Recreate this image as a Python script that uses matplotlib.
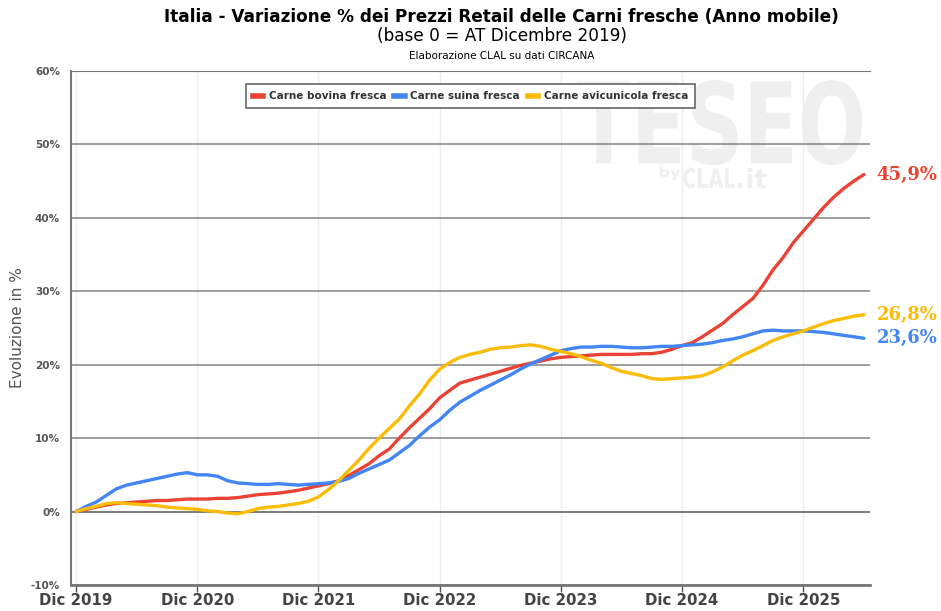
import matplotlib
matplotlib.use('Agg')
import matplotlib.pyplot as plt
from matplotlib.lines import Line2D
from matplotlib.textpath import TextPath
from matplotlib.patches import PathPatch
from matplotlib.font_manager import FontProperties
from matplotlib.transforms import Affine2D

# valori mensili da Dic 2019 (base 0)
bovina = [0.0, 0.3, 0.6, 0.9, 1.1, 1.2, 1.3, 1.4, 1.5, 1.5, 1.6, 1.7,
          1.7, 1.7, 1.8, 1.8, 1.9, 2.1, 2.3, 2.4, 2.5, 2.7, 2.9, 3.2,
          3.5, 3.8, 4.2, 4.9, 5.7, 6.5, 7.6, 8.5, 10.0, 11.4, 12.7, 14.0,
          15.5, 16.5, 17.5, 17.9, 18.3, 18.7, 19.1, 19.5, 19.9, 20.2, 20.5, 20.8,
          21.0, 21.1, 21.2, 21.3, 21.4, 21.4, 21.4, 21.4, 21.5, 21.5, 21.7, 22.1,
          22.6, 23.0, 23.8, 24.7, 25.6, 26.8, 27.9, 29.0, 30.8, 32.9, 34.6, 36.6,
          38.2, 39.8, 41.4, 42.8, 44.0, 45.0, 45.9]
suina = [0.0, 0.7, 1.3, 2.2, 3.1, 3.6, 3.9, 4.2, 4.5, 4.8, 5.1, 5.3,
         5.0, 5.0, 4.8, 4.2, 3.9, 3.8, 3.7, 3.7, 3.8, 3.7, 3.6, 3.7,
         3.8, 3.9, 4.1, 4.5, 5.2, 5.8, 6.4, 7.0, 8.0, 9.0, 10.3, 11.5,
         12.5, 13.8, 14.9, 15.7, 16.5, 17.2, 17.9, 18.6, 19.4, 20.1, 20.7, 21.3,
         21.9, 22.2, 22.4, 22.4, 22.5, 22.5, 22.4, 22.3, 22.3, 22.4, 22.5, 22.5,
         22.6, 22.7, 22.8, 23.0, 23.3, 23.5, 23.8, 24.2, 24.6, 24.7, 24.6, 24.6,
         24.6, 24.5, 24.4, 24.2, 24.0, 23.8, 23.6]
avicunicola = [0.0, 0.4, 0.7, 1.1, 1.2, 1.1, 1.0, 0.9, 0.8, 0.6, 0.5, 0.4,
               0.3, 0.1, 0.0, -0.2, -0.3, 0.0, 0.4, 0.6, 0.7, 0.9, 1.1, 1.4,
               2.0, 3.0, 4.2, 5.6, 7.0, 8.6, 10.0, 11.3, 12.6, 14.4, 16.0, 17.9,
               19.4, 20.3, 21.0, 21.4, 21.7, 22.1, 22.3, 22.4, 22.6, 22.7, 22.5, 22.1,
               21.8, 21.5, 21.1, 20.6, 20.2, 19.6, 19.1, 18.8, 18.5, 18.1, 18.0, 18.1,
               18.2, 18.3, 18.5, 19.0, 19.7, 20.5, 21.3, 21.9, 22.6, 23.3, 23.8, 24.2,
               24.6, 25.1, 25.6, 26.0, 26.3, 26.6, 26.8]

nomi = ['Carne bovina fresca', 'Carne suina fresca', 'Carne avicunicola fresca']
colori = ['#EA4335', '#4285F4', '#FBBC05']
tick_mesi = [0, 12, 24, 36, 48, 60, 72]
tick_label = ['Dic 2019', 'Dic 2020', 'Dic 2021', 'Dic 2022', 'Dic 2023', 'Dic 2024', 'Dic 2025']
y_ticks = [-10, 0, 10, 20, 30, 40, 50, 60]

fig = plt.figure(figsize=(9.41, 6.11), dpi=100)
ax = fig.add_axes([0.0755, 0.0426, 0.849, 0.8412])
ax.patch.set_alpha(0)


def filigrana(testo, box):
    # scritta grigia chiara stirata dentro box (frazioni di figura)
    p = TextPath((0, 0), testo, size=10, prop=FontProperties(family='DejaVu Sans', weight='bold'))
    e = p.get_extents()
    x0, y0, x1, y1 = box
    t = (Affine2D().translate(-e.x0, -e.y0)
         .scale((x1 - x0) / e.width, (y1 - y0) / e.height)
         .translate(x0, y0) + fig.transFigure)
    fig.patches.append(PathPatch(p, transform=t, facecolor='#efefef', edgecolor='none', zorder=-1))


filigrana('TESEO', (0.613, 0.730, 0.916, 0.869))
filigrana('by', (0.701, 0.706, 0.723, 0.727))
filigrana('CLAL', (0.726, 0.692, 0.781, 0.725))
filigrana('.it', (0.784, 0.692, 0.815, 0.725))

serie = [bovina, suina, avicunicola]
mesi = list(range(len(bovina)))
for i in [0, 1, 2]:
    ax.plot(mesi, serie[i], color=colori[i], lw=2.4, solid_capstyle='round', zorder=3)

ax.set_xlim(-0.5, 78.6)
ax.set_ylim(-10, 60)
ax.set_yticks(y_ticks)
ax.set_yticklabels([f'{v}%' for v in y_ticks], fontsize=7.5, fontweight='bold', color='#555555')
ax.set_xticks(tick_mesi)
ax.set_xticklabels(tick_label, fontsize=10.8, fontweight='bold', color='#444444')
ax.tick_params(axis='y', length=0, pad=8)
ax.tick_params(axis='x', length=5, width=1, color='#555555', direction='out', pad=1)

for v in y_ticks:
    ax.axhline(v, color='#8c8c8c' if v != 0 else '#666666', lw=1.2, zorder=1)
for m in tick_mesi:
    ax.axvline(m, color='#eeeeee', lw=1, zorder=0)

ax.spines['right'].set_visible(False)
ax.spines['left'].set_color('#777777')
ax.spines['left'].set_linewidth(1.5)
ax.spines['top'].set_color('#777777')
ax.spines['bottom'].set_color('#777777')
ax.spines['bottom'].set_linewidth(2)

ax.set_ylabel('Evoluzione in %', fontsize=11, color='#555555', labelpad=4)

# etichette finali
for i in [0, 1, 2]:
    ultimo = serie[i][-1]
    ax.annotate(f'{ultimo:.1f}%'.replace('.', ','), xy=(mesi[-1], ultimo),
                xytext=(9, 0), textcoords='offset points', va='center', ha='left',
                fontsize=13, fontweight='bold', color=colori[i], family='DejaVu Serif',
                annotation_clip=False)

handles = [Line2D([0], [0], color=c, lw=4) for c in colori]
leg = ax.legend(handles, nomi, loc='upper center', bbox_to_anchor=(0.5, 0.985), ncol=3,
                frameon=True, fancybox=False, handlelength=1.0,
                columnspacing=0.8, handletextpad=0.5, borderpad=0.7,
                prop={'size': 7.5, 'weight': 'bold'})
leg.get_frame().set_edgecolor('#666666')
leg.get_frame().set_linewidth(1.2)
leg.get_frame().set_alpha(1)
for t in leg.get_texts():
    t.set_color('#333333')

fig.text(0.533, 0.972, 'Italia - Variazione % dei Prezzi Retail delle Carni fresche (Anno mobile)',
         ha='center', va='center', fontsize=12.2, fontweight='bold')
fig.text(0.533, 0.941, '(base 0 = AT Dicembre 2019)', ha='center', va='center', fontsize=12.2)
fig.text(0.533, 0.908, 'Elaborazione CLAL su dati CIRCANA', ha='center', va='center', fontsize=7.5)

fig.savefig('out.png', dpi=100)
